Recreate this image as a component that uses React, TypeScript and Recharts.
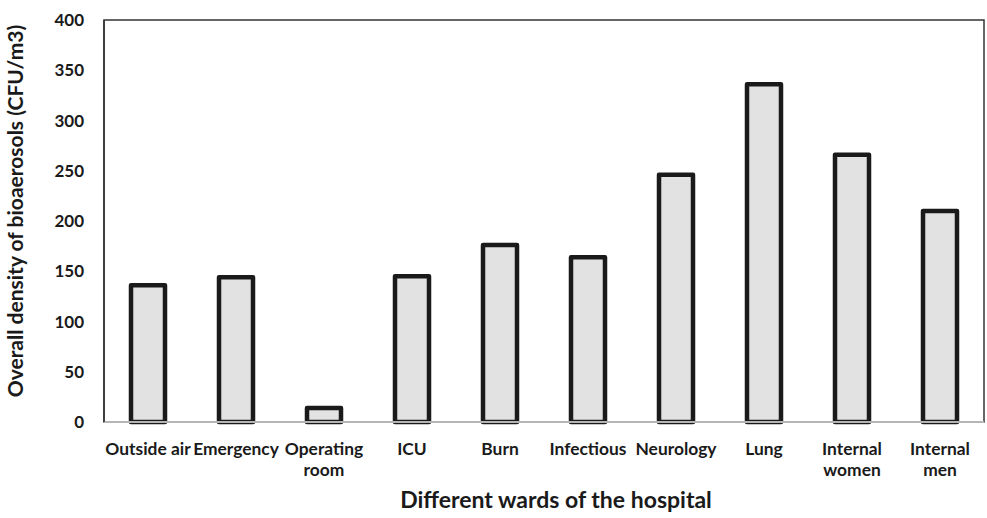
import React from 'react';
import { BarChart, Bar, XAxis, YAxis, ReferenceArea } from 'recharts';

const wards = [
  'Outside air',
  'Emergency',
  'Operating\nroom',
  'ICU',
  'Burn',
  'Infectious',
  'Neurology',
  'Lung',
  'Internal\nwomen',
  'Internal\nmen',
];
const density = [136, 144, 14, 145, 176, 164, 246, 336, 266, 210];
const yTicks = [0, 50, 100, 150, 200, 250, 300, 350, 400];

const data = wards.map((ward, i) => ({ ward, value: density[i] }));

const FONT = 'Lato, "Open Sans", sans-serif';

const WardTick = (props: any) => {
  const { x, y, payload } = props;
  const lines = String(payload.value).split('\n');
  return (
    <text x={x} y={y + 25} textAnchor="middle" fontFamily={FONT} fontWeight={700} fontSize={17.4} fill="#1a1a1a">
      {lines.map((line, i) => (
        <tspan key={i} x={x} dy={i === 0 ? 0 : 21}>
          {line}
        </tspan>
      ))}
    </text>
  );
};

const App: React.FC = () => {
  return (
    <div style={{ position: 'absolute', left: 0, top: 0, background: '#fff' }}>
      <BarChart
        width={987}
        height={518}
        data={data}
        margin={{ top: 20, right: 3, bottom: 0, left: 0 }}
        barCategoryGap="28%"
      >
        <ReferenceArea y1={0} y2={400} fill="none" stroke="#333" strokeWidth={1.5} ifOverflow="visible" />
        <XAxis
          dataKey="ward"
          interval={0}
          height={96}
          tickLine={false}
          axisLine={{ stroke: '#b5b5b5', strokeWidth: 2 }}
          tick={<WardTick />}
          label={{
            content: () => (
              <text x={556} y={508} textAnchor="middle" fontFamily={FONT} fontWeight={700} fontSize={23} fill="#1a1a1a">
                Different wards of the hospital
              </text>
            ),
          }}
        />
        <YAxis
          width={104}
          domain={[0, 400]}
          ticks={yTicks}
          interval={0}
          tickLine={false}
          axisLine={{ stroke: '#333', strokeWidth: 1.5 }}
          tick={{ fontFamily: FONT, fontWeight: 700, fontSize: 17, fill: '#1a1a1a' }}
          tickMargin={14}
          label={{
            content: () => (
              <text
                x={0}
                y={0}
                transform="translate(23, 211) rotate(-90)"
                textAnchor="middle"
                fontFamily={FONT}
                fontWeight={700}
                fontSize={21}
                fill="#1a1a1a"
              >
                Overall density of bioaerosols (CFU/m3)
              </text>
            ),
          }}
        />
        <Bar
          dataKey="value"
          fill="#e2e2e2"
          stroke="#1a1a1a"
          strokeWidth={4.5}
          strokeLinejoin="round"
          barSize={34}
          isAnimationActive={false}
        />
      </BarChart>
    </div>
  );
};

export default App;
